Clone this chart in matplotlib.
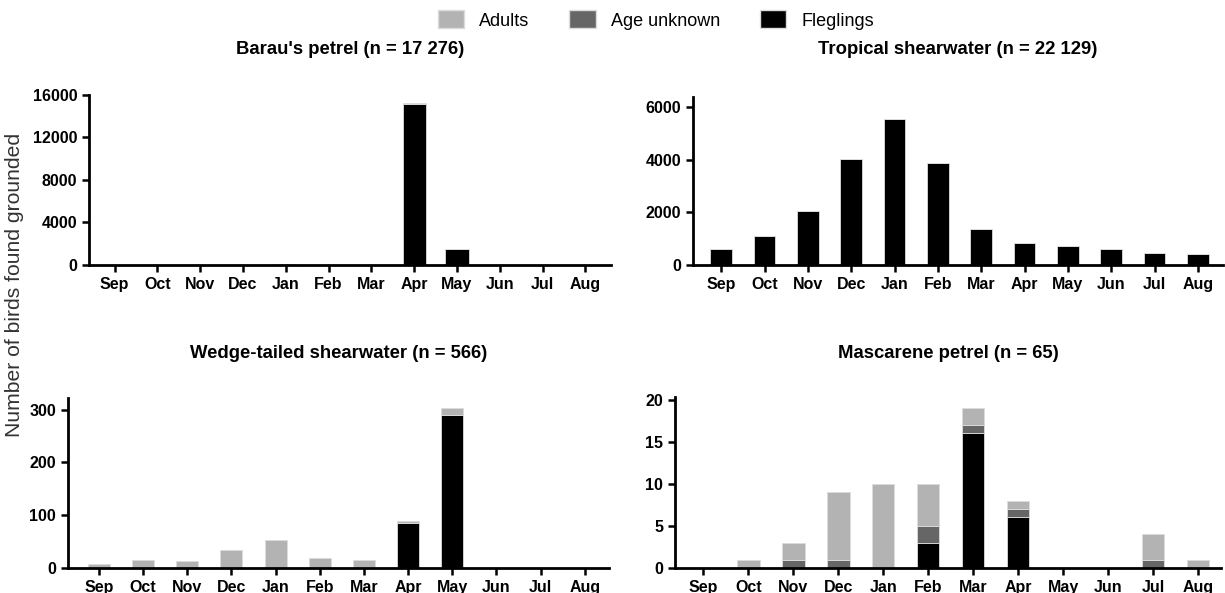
import numpy as np
import matplotlib
matplotlib.use("Agg")
import matplotlib.pyplot as plt
from matplotlib.patches import Patch

plt.rcParams['font.family'] = ['Liberation Sans', 'DejaVu Sans']

months = ["Sep", "Oct", "Nov", "Dec", "Jan", "Feb", "Mar", "Apr", "May", "Jun", "Jul", "Aug"]

# Barau's petrel
barau_fledglings = [0, 0, 0, 0, 0, 0, 0, 15150, 1460, 0, 0, 0]
barau_unknown = [0, 0, 0, 0, 0, 0, 0, 0, 0, 0, 0, 0]
barau_adults = [20, 15, 25, 30, 110, 40, 30, 60, 20, 0, 0, 0]

# Tropical shearwater
tropical_fledglings = [615, 1095, 2055, 4035, 5570, 3880, 1365, 855, 715, 600, 470, 420]
tropical_unknown = [0] * 12
tropical_adults = [0] * 12

# Wedge-tailed shearwater
wedge_fledglings = [0, 0, 0, 0, 0, 0, 0, 85, 290, 0, 0, 0]
wedge_unknown = [0] * 12
wedge_adults = [8, 15, 13, 34, 53, 18, 15, 4, 14, 0, 0, 0]

# Mascarene petrel
masc_fledglings = [0, 0, 0, 0, 0, 3, 16, 6, 0, 0, 0, 0]
masc_unknown = [0, 0, 1, 1, 0, 2, 1, 1, 0, 0, 1, 0]
masc_adults = [0, 1, 2, 8, 10, 5, 2, 1, 0, 0, 3, 1]

col_adults = "#b3b3b3"
col_unknown = "#666666"
col_fled = "#000000"

W, H = 1225, 593
fig = plt.figure(figsize=(W / 100, H / 100), dpi=100)


def make_ax(left, right, bottom, top):
    return fig.add_axes([left / W, 1 - bottom / H, (right - left) / W, (bottom - top) / H])


def draw_panel(ax, title, title_y, fled, unk, adults, ymax, yticks, xlim, width=0.5):
    x = np.arange(len(months))
    fled = np.array(fled)
    unk = np.array(unk)
    adults = np.array(adults)
    kw = dict(width=width, edgecolor="#dcdcdc", linewidth=0.6)
    ax.bar(x, fled, color=col_fled, **kw)
    ax.bar(x, unk, bottom=fled, color=col_unknown, **kw)
    ax.bar(x, adults, bottom=fled + unk, color=col_adults, **kw)
    ax.set_xlim(*xlim)
    ax.set_ylim(0, ymax)
    ax.set_yticks(yticks)
    ax.set_xticks(x)
    ax.set_xticklabels(months)
    for s in ["top", "right"]:
        ax.spines[s].set_visible(False)
    for s in ["left", "bottom"]:
        ax.spines[s].set_linewidth(2)
    ax.tick_params(axis="both", width=1.8, length=5, direction="out",
                   labelsize=11.5)
    for lab in ax.get_xticklabels() + ax.get_yticklabels():
        lab.set_fontweight("bold")
    # title centred over the axes, fixed height in the figure
    bb = ax.get_position()
    fig.text(bb.x0 + bb.width / 2, 1 - title_y / H, title, ha="center", va="center",
             fontsize=13.3, fontweight="bold")


ax1 = make_ax(89, 611, 265, 95)
draw_panel(ax1, "Barau's petrel (n = 17 276)", 50, barau_fledglings, barau_unknown,
           barau_adults, 16000, [0, 4000, 8000, 12000, 16000], (-0.6, 11.6), width=0.54)

ax2 = make_ax(693, 1223, 265, 97)
draw_panel(ax2, "Tropical shearwater (n = 22 129)", 50, tropical_fledglings, tropical_unknown,
           tropical_adults, 6400, [0, 2000, 4000, 6000], (-0.65, 11.58))

ax3 = make_ax(68, 609, 568, 398)
draw_panel(ax3, "Wedge-tailed shearwater (n = 566)", 354, wedge_fledglings, wedge_unknown,
           wedge_adults, 322, [0, 100, 200, 300], (-0.7, 11.55))

ax4 = make_ax(675, 1221, 568, 397)
draw_panel(ax4, "Mascarene petrel (n = 65)", 354, masc_fledglings, masc_unknown,
           masc_adults, 20.3, [0, 5, 10, 15, 20], (-0.63, 11.51))

fig.text(15 / W, 1 - 285 / H, "Number of birds found grounded", rotation=90,
         ha="center", va="center", fontsize=15.2, color="#333333")

handles = [Patch(facecolor=col_adults, edgecolor="#dcdcdc"),
           Patch(facecolor=col_unknown, edgecolor="#dcdcdc"),
           Patch(facecolor=col_fled, edgecolor="#dcdcdc")]
fig.legend(handles, ["Adults", "Age unknown", "Fleglings"], ncol=3,
           loc="center", bbox_to_anchor=(656 / W, 1 - 20 / H), frameon=False,
           fontsize=13, handlelength=1.45, handleheight=1.15, columnspacing=2.2,
           handletextpad=0.85)

fig.savefig("out.png", dpi=100)
